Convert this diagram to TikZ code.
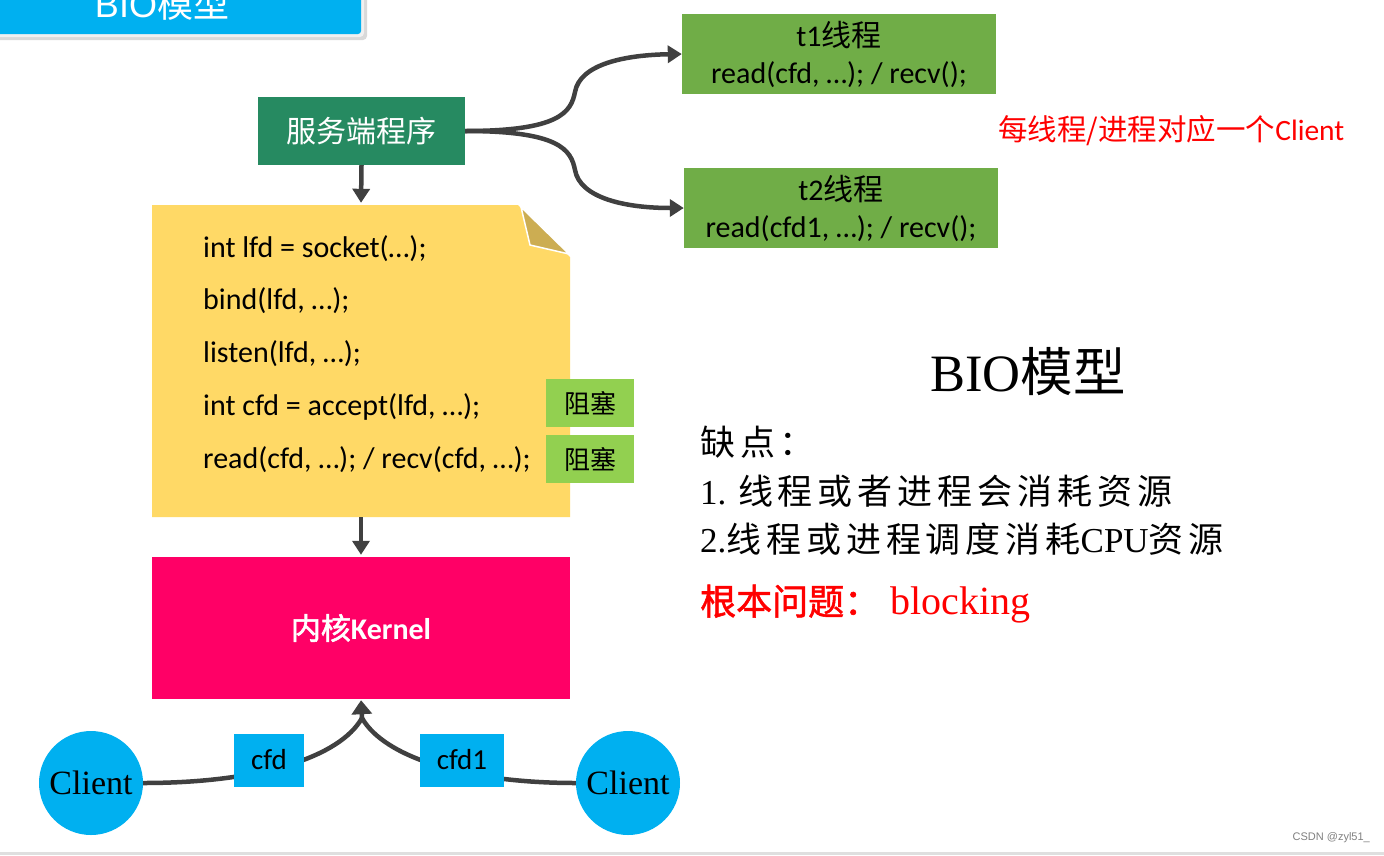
\documentclass[tikz,border=0pt]{standalone}
\usepackage{fontspec}
\setmainfont{Carlito}
\newfontfamily\cjk{Noto Sans CJK SC}[AutoFakeBold=2]
\newfontfamily\cjkw{Noto Sans CJK SC}[LetterSpace=14]
\newfontfamily\cjkwb{Noto Sans CJK SC}[FakeBold=1.5]
\newfontfamily\tnr{Liberation Serif}
\newfontfamily\lsans{Liberation Sans}
\usetikzlibrary{arrows.meta}
\newcommand\fsz[1]{\fontsize{#1}{#1}\selectfont}
\definecolor{tabblue}{HTML}{00B0F0}
\definecolor{servergreen}{HTML}{268A61}
\definecolor{threadgreen}{HTML}{70AD47}
\definecolor{noteyellow}{HTML}{FFD966}
\definecolor{foldtan}{HTML}{CCAD52}
\definecolor{blockgreen}{HTML}{92D050}
\definecolor{kernelpink}{HTML}{FF0066}
\definecolor{linegray}{HTML}{404040}
\tikzset{
  conn/.style={draw=linegray, line width=4.5},
  arr/.style={conn, -{Triangle[length=14pt,width=17pt]}},
  code/.style={anchor=base west, inner sep=0, font=\fsz{30}},
  blk/.style={fill=blockgreen, minimum width=88, minimum height=48, inner sep=0, font=\cjk\fsz{26}},
  lbl/.style={fill=tabblue, minimum height=53, inner sep=0, font=\fsz{29}},
  thr/.style={fill=threadgreen, minimum width=314, minimum height=80, inner sep=0, align=center, font=\fontsize{30}{37}\selectfont},
  client/.style={circle, fill=tabblue, minimum size=104, inner sep=0, font=\tnr\fsz{34}},
  txt/.style={anchor=west, inner sep=0}
}
\begin{document}
\begin{tikzpicture}[x=1pt,y=-1pt]
\useasboundingbox (0,0) rectangle (1384,855);
\clip (0,0) rectangle (1384,855);
\fill[white] (0,0) rectangle (1384,855);
% top tab
\fill[gray!30, rounded corners=4] (-10,-10) rectangle (367,40);
\fill[gray!12, rounded corners=4] (-10,-10) rectangle (364,37);
\fill[tabblue, rounded corners=3] (-10,-10) rectangle (361,34);
\node[font=\lsans\fsz{36}, text=white, anchor=base, inner sep=0] (tab) at (162,17) {BIO{\cjk 模型}};
% server
\node[fill=servergreen, minimum width=207, minimum height=68, inner sep=0, text=white, font=\cjk\fsz{30}] (server) at (361.5,131) {服务端程序};
% threads
\node[thr] (t1) at (839,54) {t1{\cjk 线程}\\read(cfd, …); / recv();};
\node[thr] (t2) at (841,208) {t2{\cjk 线程}\\read(cfd1, …); / recv();};
\node[txt, text=red, font=\cjk\fsz{29.5}] (each) at (998,131) {每线程/进程对应一个{\rmfamily Client}};
\draw[arr] (server.east) .. controls (560,131) and (571,112) .. (575,92) .. controls (580,64) and (625,55) .. (t1.west);
\draw[arr] (server.east) .. controls (560,131) and (571,150) .. (575,170) .. controls (580,198) and (625,208) .. (t2.west);
% note
\fill[noteyellow] (152,205) -- (518,205) -- (570,257) -- (570,517) -- (152,517) -- cycle;
\fill[foldtan, draw=white, line width=1.5] (521,207) -- (530,245) -- (569,254) -- cycle;
\node[minimum width=418, minimum height=312, inner sep=0] (note) at (361,361) {};
\node[code] (c1) at (203,257) {int lfd = socket(…);};
\node[code] (c2) at (203,309) {bind(lfd, …);};
\node[code] (c3) at (203,362) {listen(lfd, …);};
\node[code] (c4) at (203,415) {int cfd = accept(lfd, …);};
\node[code] (c5) at (203,468) {read(cfd, …); / recv(cfd, …);};
\node[blk] (b1) at (590,403) {阻塞};
\node[blk] (b2) at (590,459) {阻塞};
% kernel
\node[fill=kernelpink, minimum width=418, minimum height=142, inner sep=0, text=white, font=\bfseries\fsz{30}] (kernel) at (361,628) {{\cjk\bfseries 内核}Kernel};
\draw[arr, shorten >=2pt] (server.south) -- (note.north);
\draw[arr, shorten >=2pt] (note.south) -- (kernel.north);
% clients
\node[client] (cl1) at (91,783) {Client};
\node[client] (cl2) at (628,783) {Client};
\coordinate (tip) at (362,718);
\draw[conn] (cl1.east) .. controls (260,783) and (340,757) .. (tip);
\draw[conn] (cl2.west) .. controls (465,783) and (384,757) .. (tip);
\draw[arr, -{Triangle[length=14pt,width=20pt]}, shorten >=1pt] (tip) -- (kernel.south);
\node[lbl, minimum width=70] (cfd) at (269,760) {cfd};
\node[lbl, minimum width=84] (cfd1) at (462,760) {cfd1};
% right text
\node[inner sep=0, font=\fsz{52.5}] (title) at (1028,372) {{\tnr BIO}{\cjk 模型}};
\node[txt, font=\cjkw\fsz{35}] (q) at (700,442) {缺点：};
\node[txt, font=\fsz{35}] (p1) at (700,491) {{\tnr 1. }{\cjkw 线程或者进程会消耗资源}};
\node[txt, font=\fsz{35}] (p2) at (700,539) {{\tnr 2.}{\cjkw 线程或进程调度消耗}{\tnr CPU}{\cjkw 资源}};
\node[txt, text=red, font=\fsz{36}] (root) at (700,604) {{\cjkwb 根本问题：}{\tnr\fsz{40} blocking}};
% watermark and bottom line
\node[font=\lsans\fsz{11}, text=gray, anchor=east, inner sep=0] (wm) at (1370,838) {CSDN @zyl51\_};
\fill[gray!25] (0,852) rectangle (1384,855);
\end{tikzpicture}
\end{document}
